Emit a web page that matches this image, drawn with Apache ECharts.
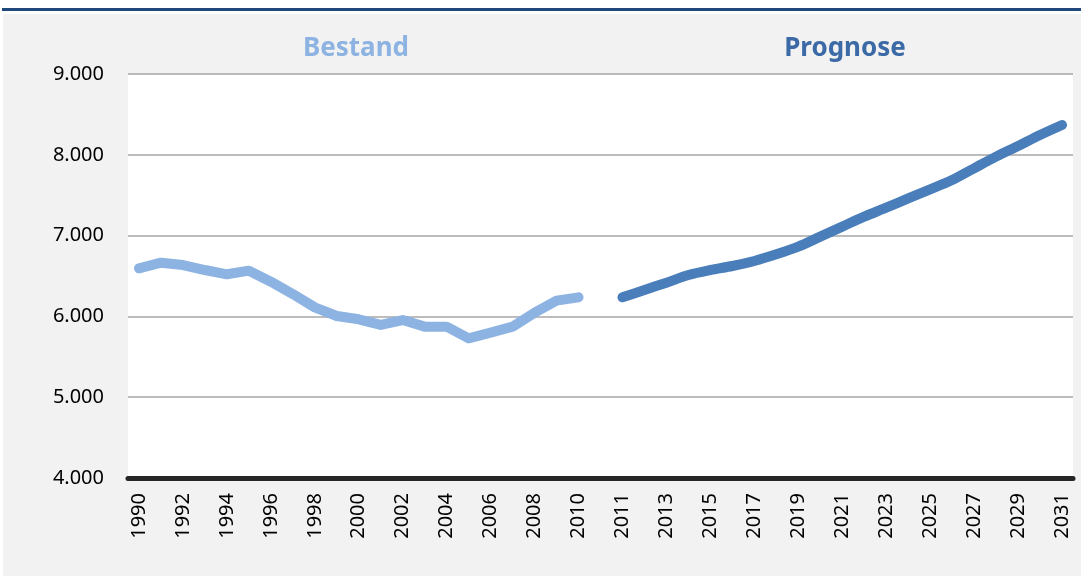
<!DOCTYPE html>
<html>
<head>
<meta charset="utf-8">
<script src="https://cdn.jsdelivr.net/npm/echarts@6/dist/echarts.min.js"></script>
<style>
  html, body { margin: 0; padding: 0; background: #fff; }
  #container { width: 1081px; height: 576px; }
</style>
</head>
<body>
<div id="container"></div>
<script>
// Jahre: Bestand 1990-2010, Prognose 2011-2031 (eine leere Kategorie dazwischen)
var yearsBestand = [1990, 1991, 1992, 1993, 1994, 1995, 1996, 1997, 1998, 1999, 2000,
    2001, 2002, 2003, 2004, 2005, 2006, 2007, 2008, 2009, 2010];
var yearsPrognose = [2011, 2012, 2013, 2014, 2015, 2016, 2017, 2018, 2019, 2020, 2021,
    2022, 2023, 2024, 2025, 2026, 2027, 2028, 2029, 2030, 2031];

var bestand = [6595, 6665, 6636, 6574, 6521, 6566, 6430, 6277, 6112, 6005, 5964,
    5894, 5955, 5873, 5873, 5729, 5800, 5873, 6046, 6195, 6236];
var prognose = [6236, 6327, 6417, 6512, 6574, 6624, 6686, 6768, 6863, 6987, 7111,
    7234, 7345, 7461, 7573, 7688, 7833, 7977, 8109, 8245, 8369];

var yTicks = [4000, 5000, 6000, 7000, 8000, 9000];

var categories = yearsBestand.map(String).concat(['']).concat(yearsPrognose.map(String));

function pad(arr, before, after) {
    var out = [];
    for (var i = 0; i < before; i++) out.push(null);
    out = out.concat(arr);
    for (var j = 0; j < after; j++) out.push(null);
    return out;
}
var bestandData = pad(bestand, 0, yearsPrognose.length + 1);
var prognoseData = pad(prognose, yearsBestand.length + 1, 0);

var myChart = echarts.init(document.getElementById('container'));
var option = {
    animation: false,
    textStyle: { fontFamily: 'Noto Sans' },
    graphic: [
        { type: 'rect', z: -10, shape: { x: 3, y: 14, width: 1078, height: 562 }, style: { fill: '#f2f2f2' } },
        { type: 'rect', z: -10, shape: { x: 2, y: 8, width: 1079, height: 3 }, style: { fill: '#1f497d' } }
    ],
    title: [
        {
            text: 'Bestand', left: 351, top: 31, textAlign: 'center',
            textStyle: { color: '#8db3e2', fontSize: 26, fontWeight: 'bold', fontFamily: 'Noto Sans' }
        },
        {
            text: 'Prognose', left: 840, top: 31, textAlign: 'center',
            textStyle: { color: '#3c6aa6', fontSize: 26, fontWeight: 'bold', fontFamily: 'Noto Sans' }
        }
    ],
    grid: {
        left: 128, right: 8, top: 74, bottom: 98,
        show: true, backgroundColor: '#ffffff', borderWidth: 0
    },
    xAxis: {
        type: 'category',
        data: categories,
        boundaryGap: true,
        axisLine: { lineStyle: { color: '#262626', width: 5 } },
        axisTick: { show: false },
        axisLabel: {
            interval: 1,
            rotate: 90,
            margin: 15,
            color: '#000',
            fontSize: 20
        }
    },
    yAxis: {
        type: 'value',
        min: yTicks[0],
        max: yTicks[yTicks.length - 1],
        interval: 1000,
        axisLine: { show: false },
        axisTick: { show: false },
        splitLine: { lineStyle: { color: '#a6a6a6', width: 1.5 } },
        axisLabel: {
            margin: 24,
            color: '#000',
            fontSize: 20,
            formatter: function (v) {
                return String(v).replace(/\B(?=(\d{3})+(?!\d))/g, '.');
            }
        }
    },
    series: [
        {
            name: 'Bestand',
            type: 'line',
            showSymbol: false,
            connectNulls: false,
            lineStyle: { width: 10, color: '#8db3e2', cap: 'round', join: 'round' },
            data: bestandData
        },
        {
            name: 'Prognose',
            type: 'line',
            smooth: 0.3,
            showSymbol: false,
            connectNulls: false,
            lineStyle: { width: 10, color: '#4a7ebb', cap: 'round', join: 'round' },
            data: prognoseData
        }
    ]
};
myChart.setOption(option);
</script>
</body>
</html>
